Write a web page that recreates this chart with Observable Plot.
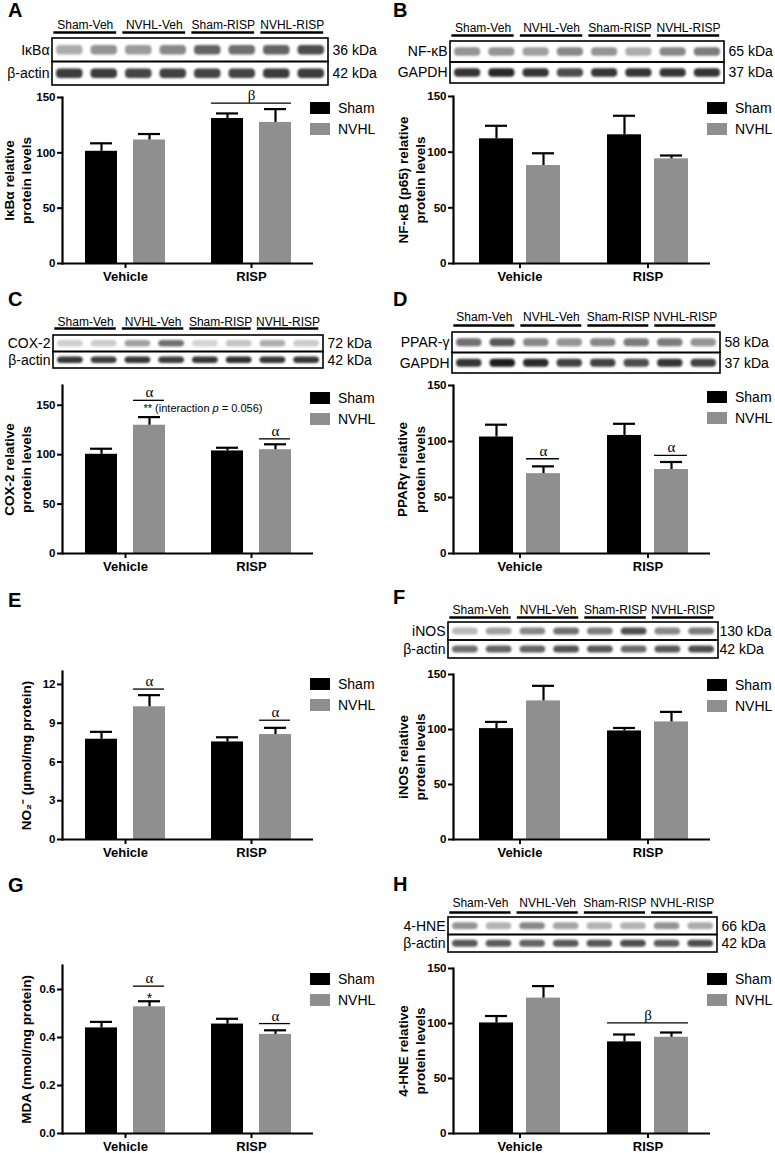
<!DOCTYPE html>
<html><head><meta charset="utf-8">
<script src="https://cdn.jsdelivr.net/npm/d3@7"></script>
<script src="https://cdn.jsdelivr.net/npm/@observablehq/plot@0.6"></script>
<style>
html,body{margin:0;padding:0;background:#fff;}
#fig{position:relative;width:775px;height:1153px;overflow:hidden;font-family:"Liberation Sans",Arial,Helvetica,sans-serif;color:#000;background:#fff;}
#fig svg{position:absolute;}
.letter{position:absolute;font-weight:bold;font-size:20px;line-height:1;}
.lg-sw{position:absolute;width:20px;height:12px;}
.lg-tx{position:absolute;font-size:14px;line-height:16px;white-space:nowrap;}
</style></head>
<body><div id="fig"></div>
<script>
// ---------- categories ----------
const treatments = ["Vehicle", "RISP"];
const groups = ["Sham", "NVHL"];
const groupColors = ["#000000", "#8f8f8f"];
const laneGroups = ["Sham-Veh", "NVHL-Veh", "Sham-RISP", "NVHL-RISP"];

// ---------- bar values (order: Sham-Vehicle, NVHL-Vehicle, Sham-RISP, NVHL-RISP) ----------
const ikbaMean = [101.4, 111.6, 131.0, 127.5];
const ikbaSem  = [7.2, 5.4, 4.6, 12.0];
const nfkbMean = [112.0, 88.0, 115.6, 94.0];
const nfkbSem  = [11.7, 11.0, 17.1, 3.0];
const cox2Mean = [100.4, 129.8, 103.8, 105.0];
const cox2Sem  = [5.6, 8.2, 3.2, 5.5];
const pparMean = [104.0, 71.3, 105.4, 75.0];
const pparSem  = [11.0, 6.5, 10.4, 6.7];
const no2Mean  = [7.76, 10.27, 7.55, 8.12];
const no2Sem   = [0.57, 0.90, 0.36, 0.52];
const inosMean = [100.8, 126.0, 98.7, 106.9];
const inosSem  = [6.1, 13.7, 2.7, 9.1];
const mdaMean  = [0.440, 0.528, 0.456, 0.413];
const mdaSem   = [0.025, 0.023, 0.022, 0.017];
const hneMean  = [100.5, 123.1, 83.3, 87.5];
const hneSem   = [6.3, 10.9, 6.7, 4.3];

// ---------- y-axis ticks ----------
const ticks150 = [0, 50, 100, 150];
const ticksNO2 = [0, 3, 6, 9, 12];
const ticksMDA = [0, 0.2, 0.4, 0.6];

// ---------- y-axis titles ----------
const ikbaTitle = "IκBα relative\nprotein levels";
const nfkbTitle = "NF-κB (p65) relative\nprotein levels";
const cox2Title = "COX-2 relative\nprotein levels";
const pparTitle = "PPARγ relative\nprotein levels";
const no2Title  = "NO₂⁻ (µmol/mg protein)";
const inosTitle = "iNOS relative\nprotein levels";
const mdaTitle  = "MDA (nmol/mg protein)";
const hneTitle  = "4-HNE relative\nprotein levels";

// ---------- significance annotations ----------
const ikbaSig = [{treatment: "RISP", over: "both", y: 145, mark: "β"}];
const cox2Sig = [{treatment: "Vehicle", over: "NVHL", y: 155, mark: "α"},
                 {treatment: "RISP", over: "NVHL", y: 116, mark: "α"}];
const cox2Note = [{treatment: "Vehicle", y: 147, text: "** (interaction p = 0.056)"}];
const pparSig = [{treatment: "Vehicle", over: "NVHL", y: 84.6, mark: "α"},
                 {treatment: "RISP", over: "NVHL", y: 87.6, mark: "α"}];
const no2Sig  = [{treatment: "Vehicle", over: "NVHL", y: 11.64, mark: "α"},
                 {treatment: "RISP", over: "NVHL", y: 9.23, mark: "α"}];
const mdaSig  = [{treatment: "Vehicle", over: "NVHL", y: 0.614, mark: "α"},
                 {treatment: "RISP", over: "NVHL", y: 0.458, mark: "α"}];
const mdaNote = [{treatment: "Vehicle", y: 0.5625, text: "*"}];
const hneSig  = [{treatment: "RISP", over: "both", y: 100.5, mark: "β"}];

// ---------- western blot rows (labels, sizes, band intensities 0..1 for 8 lanes) ----------
const ikbaRows = ["IκBα", "β-actin"];   const ikbaKda = ["36 kDa", "42 kDa"];
const ikbaBands  = [0.35, 0.45, 0.42, 0.5, 0.65, 0.6, 0.65, 0.75];
const ikbaActin  = [0.82, 0.82, 0.78, 0.8, 0.78, 0.78, 0.82, 0.82];
const nfkbRows = ["NF-κB", "GAPDH"];    const nfkbKda = ["65 kDa", "37 kDa"];
const nfkbBands  = [0.45, 0.45, 0.4, 0.5, 0.45, 0.35, 0.5, 0.55];
const nfkbGapdh  = [0.85, 0.9, 0.85, 0.75, 0.85, 0.85, 0.85, 0.85];
const cox2Rows = ["COX-2", "β-actin"];  const cox2Kda = ["72 kDa", "42 kDa"];
const cox2Bands  = [0.2, 0.22, 0.4, 0.6, 0.18, 0.25, 0.35, 0.22];
const cox2Actin  = [0.85, 0.82, 0.85, 0.82, 0.85, 0.88, 0.85, 0.85];
const pparRows = ["PPAR-γ", "GAPDH"];   const pparKda = ["58 kDa", "37 kDa"];
const pparBands  = [0.6, 0.7, 0.5, 0.45, 0.5, 0.55, 0.55, 0.45];
const pparGapdh  = [0.85, 0.95, 0.9, 0.8, 0.8, 0.75, 0.85, 0.8];
const inosRows = ["iNOS", "β-actin"];   const inosKda = ["130 kDa", "42 kDa"];
const inosBands  = [0.3, 0.4, 0.5, 0.6, 0.55, 0.75, 0.5, 0.55];
const inosActin  = [0.6, 0.65, 0.65, 0.72, 0.7, 0.62, 0.7, 0.75];
const hneRows  = ["4-HNE", "β-actin"];  const hneKda = ["66 kDa", "42 kDa"];
const hneBands   = [0.45, 0.32, 0.5, 0.38, 0.32, 0.32, 0.45, 0.35];
const hneActin   = [0.7, 0.68, 0.65, 0.7, 0.7, 0.75, 0.68, 0.75];

// ---------- drawing ----------
const fig = document.getElementById("fig");
const FONT = "'Liberation Sans', Arial, Helvetica, sans-serif";
const svgStyle = {background: "transparent", maxWidth: "none", overflow: "visible", fontFamily: FONT, color: "#000"};

function place(el, left, top) {
  el.style.position = "absolute";
  el.style.left = left + "px";
  el.style.top = top + "px";
  fig.appendChild(el);
  return el;
}

function drawBars(c) {
  const mT = 28, mB = 32;
  const plotH = c.y0 - c.yTop;
  const R = c.axisEnd - c.axisX;
  const {step, bw, barW} = c;
  const pi = 1 - bw / step;
  const po = (R / step - 2 + pi) / 2;
  const off = (bw - barW) / 2;
  const capW = 22;
  const data = [];
  treatments.forEach((t, ti) => groups.forEach((g, gi) =>
    data.push({treatment: t, group: g, mean: c.means[ti * 2 + gi], sem: c.sems[ti * 2 + gi]})));
  const sham = data.filter(d => d.group === "Sham");
  const nvhl = data.filter(d => d.group === "NVHL");
  const sig = c.sig || [];
  const sigBoth = sig.filter(s => s.over === "both");
  const sigN = sig.filter(s => s.over === "NVHL");
  const notes = c.notes || [];
  const serif = "'Liberation Serif', 'Times New Roman', serif";
  const marks = [
    Plot.barY(sham, {x: "treatment", y: "mean", fill: "group", insetRight: bw - barW}),
    Plot.barY(nvhl, {x: "treatment", y: "mean", fill: "group", insetLeft: bw - barW}),
    Plot.ruleX(sham, {x: "treatment", y1: "mean", y2: d => d.mean + d.sem, dx: -off, strokeWidth: 2.2}),
    Plot.ruleX(nvhl, {x: "treatment", y1: "mean", y2: d => d.mean + d.sem, dx: off, strokeWidth: 2.2}),
    Plot.tickY(sham, {x: "treatment", y: d => d.mean + d.sem, insetLeft: barW / 2 - capW / 2, insetRight: bw - barW / 2 - capW / 2, strokeWidth: 2.2}),
    Plot.tickY(nvhl, {x: "treatment", y: d => d.mean + d.sem, insetLeft: bw - barW / 2 - capW / 2, insetRight: barW / 2 - capW / 2, strokeWidth: 2.2}),
    Plot.tickY(sigBoth, {x: "treatment", y: "y", strokeWidth: 1.3}),
    Plot.tickY(sigN, {x: "treatment", y: "y", insetLeft: bw - barW, insetRight: 1, strokeWidth: 1.3}),
    Plot.text(sigBoth, {x: "treatment", y: "y", text: "mark", lineAnchor: "bottom", dy: -3, fontFamily: serif, fontSize: 15}),
    Plot.text(sigN, {x: "treatment", y: "y", text: "mark", lineAnchor: "bottom", dy: -3, dx: off, fontFamily: serif, fontSize: 15}),
    Plot.text(notes, {x: "treatment", y: "y", text: "text", textAnchor: c.noteAnchor || "start", dx: c.noteDx || 0, fontSize: c.noteSize || 11}),
    Plot.ruleY([0], {strokeWidth: 2.2}),
    Plot.frame({anchor: "left", strokeWidth: 2.2}),
    Plot.axisY({ticks: c.ticks, tickFormat: c.fmt, tickSize: 5, tickPadding: 2, fontSize: 11.5, fontWeight: "bold", strokeWidth: 2, label: null}),
    Plot.axisX({tickSize: 5, tickPadding: 3, fontSize: 13, fontWeight: "bold", strokeWidth: 2, label: null}),
    Plot.text([c.ylabel], {frameAnchor: "left", textAnchor: "middle", lineAnchor: "middle", rotate: -90, dx: c.labelDx, fontWeight: "bold", fontSize: 13.5, lineHeight: 1.27})
  ];
  const svg = Plot.plot({
    width: c.axisEnd - c.left,
    height: plotH + mT + mB,
    marginLeft: c.axisX - c.left, marginRight: 0, marginTop: mT, marginBottom: mB,
    style: svgStyle,
    x: {domain: treatments, paddingInner: pi, paddingOuter: po, align: c.align || 0.5},
    y: {domain: [0, c.ymax]},
    color: {domain: groups, range: groupColors},
    marks
  });
  svg.querySelectorAll("text").forEach(t => {
    if (t.textContent.includes("interaction p")) {
      t.innerHTML = "** (interaction <tspan font-style='italic'>p</tspan> = 0.056)";
    }
  });
  place(svg, c.left, c.yTop - mT);
}

function drawBlot(b) {
  const mL = 62, mR = 62, mT = 24, mB = 2;
  const bands = [];
  [b.top, b.bottom].forEach((arr, r) => arr.forEach((v, lane) => bands.push({lane, row: r, v})));
  const rows = b.names.map((name, r) => ({row: r, name, kda: b.kda[r]}));
  const rowH = (b.y2 - b.y1) / 2;
  const ink = d3.interpolateRgb("#ffffff", "#111111");
  const svg = Plot.plot({
    width: b.x2 - b.x1 + mL + mR,
    height: b.y2 - b.y1 + mT + mB,
    marginLeft: mL, marginRight: mR, marginTop: mT, marginBottom: mB,
    style: svgStyle,
    x: {domain: [0, 8], axis: null},
    y: {domain: [2, 0], axis: null},
    color: {type: "identity"},
    marks: [
      Plot.rect(bands, {x1: "lane", x2: d => d.lane + 1, y1: "row", y2: d => d.row + 1,
        fill: d => ink(d.v), insetLeft: 4, insetRight: 4, insetTop: rowH * 0.3, insetBottom: rowH * 0.3, rx: 4}),
      Plot.rect(rows, {x1: () => 0, x2: () => 8, y1: "row", y2: d => d.row + 1, fill: "none", stroke: "black", strokeWidth: 1.6}),
      Plot.text(laneGroups, {x: (d, i) => 2 * i + 0.95, y: () => 0, text: d => d, dy: b.hdrDy, fontSize: 12}),
      Plot.ruleY(laneGroups, {y: () => 0, x1: (d, i) => 2 * i + 0.04, x2: (d, i) => 2 * i + 1.86, dy: b.ulDy, strokeWidth: 2.5}),
      Plot.text(rows, {x: () => 0, y: d => d.row + 0.5, text: "name", textAnchor: "end", dx: -3, fontSize: 14}),
      Plot.text(rows, {x: () => 8, y: d => d.row + 0.5, text: "kda", textAnchor: "start", dx: b.kdaDx, fontSize: 14})
    ]
  });
  const g = svg.querySelector('g[aria-label="rect"]');
  if (g) g.style.filter = "blur(1.3px)";
  place(svg, b.x1 - mL, b.y1 - mT);
}

function drawLegend(x, y) {
  groups.forEach((g, i) => {
    const sw = document.createElement("div");
    sw.className = "lg-sw";
    sw.style.background = groupColors[i];
    place(sw, x, y + i * 21);
    const tx = document.createElement("div");
    tx.className = "lg-tx";
    tx.textContent = g;
    place(tx, x + 28, y + i * 21 - 2);
  });
}

function drawLetter(letter, x, capTop) {
  const d = document.createElement("div");
  d.className = "letter";
  d.textContent = letter;
  place(d, x, capTop - 2.6);
}

const L = {left: 0, axisX: 62, axisEnd: 313, step: 126, bw: 80, barW: 32, labelDx: -45.5};
const Rt = {left: 385, axisX: 453, axisEnd: 710, step: 128, bw: 81, barW: 34, align: 0.55, labelDx: -42.5};

// A
drawBars({...L, yTop: 97, y0: 263, ymax: 150, ticks: ticks150, means: ikbaMean, sems: ikbaSem, sig: ikbaSig, ylabel: ikbaTitle});
drawBlot({x1: 52, x2: 328, y1: 38, y2: 85, names: ikbaRows, kda: ikbaKda, top: ikbaBands, bottom: ikbaActin, hdrDy: -13, ulDy: -6, kdaDx: 4});
drawLegend(310, 102); drawLetter("A", 8, 3);
// B
drawBars({...Rt, yTop: 96, y0: 263, ymax: 150, ticks: ticks150, means: nfkbMean, sems: nfkbSem, ylabel: nfkbTitle});
drawBlot({x1: 450, x2: 724, y1: 41, y2: 83, names: nfkbRows, kda: nfkbKda, top: nfkbBands, bottom: nfkbGapdh, hdrDy: -13, ulDy: -6, kdaDx: 4});
drawLegend(707, 102); drawLetter("B", 393, 3);
// C
drawBars({...L, yTop: 385, y0: 553, ymax: 170, ticks: ticks150, means: cox2Mean, sems: cox2Sem, sig: cox2Sig, notes: cox2Note, noteDx: 18, noteAnchor: "start", noteSize: 11, ylabel: cox2Title});
drawBlot({x1: 53, x2: 323, y1: 335, y2: 368, names: cox2Rows, kda: cox2Kda, top: cox2Bands, bottom: cox2Actin, hdrDy: -13, ulDy: -7, kdaDx: 4});
drawLegend(310, 392); drawLetter("C", 8, 292);
// D
drawBars({...Rt, yTop: 385, y0: 553, ymax: 150, ticks: ticks150, means: pparMean, sems: pparSem, sig: pparSig, ylabel: pparTitle, labelDx: -43});
drawBlot({x1: 452, x2: 720, y1: 332, y2: 373, names: pparRows, kda: pparKda, top: pparBands, bottom: pparGapdh, hdrDy: -15, ulDy: -7, kdaDx: 4});
drawLegend(707, 391); drawLetter("D", 393, 292);
// E
drawBars({...L, yTop: 671, y0: 839, ymax: 13, ticks: ticksNO2, means: no2Mean, sems: no2Sem, sig: no2Sig, ylabel: no2Title, labelDx: -37});
drawLegend(310, 678); drawLetter("E", 8, 593);
// F
drawBars({...Rt, yTop: 674, y0: 839, ymax: 150, ticks: ticks150, means: inosMean, sems: inosSem, ylabel: inosTitle});
drawBlot({x1: 448, x2: 718, y1: 622, y2: 658, names: inosRows, kda: inosKda, top: inosBands, bottom: inosActin, hdrDy: -12, ulDy: -5, kdaDx: 1});
drawLegend(707, 679); drawLetter("F", 393, 590);
// G
drawBars({...L, yTop: 965, y0: 1133, ymax: 0.7, ticks: ticksMDA, fmt: d3.format(".1f"), means: mdaMean, sems: mdaSem, sig: mdaSig, notes: mdaNote, noteDx: 24, noteAnchor: "middle", noteSize: 14, ylabel: mdaTitle, labelDx: -37});
drawLegend(310, 973); drawLetter("G", 8, 878);
// H
drawBars({...Rt, yTop: 968, y0: 1133, ymax: 150, ticks: ticks150, means: hneMean, sems: hneSem, sig: hneSig, ylabel: hneTitle});
drawBlot({x1: 448, x2: 717, y1: 917, y2: 952, names: hneRows, kda: hneKda, top: hneBands, bottom: hneActin, hdrDy: -14, ulDy: -5, kdaDx: 4});
drawLegend(707, 973); drawLetter("H", 393, 877);
</script>
</body></html>
